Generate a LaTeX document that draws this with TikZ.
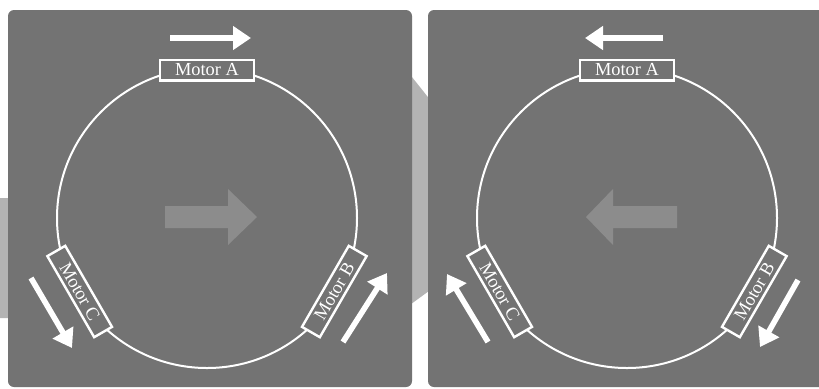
\documentclass[tikz,border=0pt]{standalone}
\usepackage{fontspec}
\setmainfont{Liberation Serif}
\usetikzlibrary{arrows.meta, positioning, calc}
\definecolor{panelgray}{RGB}{115,115,115}
\definecolor{shadegray}{RGB}{179,179,179}
\definecolor{driftgray}{RGB}{140,140,140}

\begin{document}
\begin{tikzpicture}[x=0.5pt, y=-0.5pt,
  panel/.style={fill=panelgray, rounded corners=3pt},
  motor/.style={rectangle, draw=white, line width=1.2pt, fill=panelgray, text=white, minimum width=46.8pt, minimum height=10.3pt, inner sep=0pt, font=\fontsize{9.2}{11}\selectfont},
  track/.style={draw=white, line width=1pt},
  spin/.style={white, line width=2.8pt, -{Triangle[length=9pt, width=11.5pt]}},
  drift/.style={fill=driftgray}]
\useasboundingbox (0,0) rectangle (819,388);
\clip (0,0) rectangle (819,388);
\fill[shadegray] (-10,198) -- (392,198) -- (392,52) -- (526,220) -- (392,318) -- (-10,318) -- cycle;
\fill[panel] (8,10) rectangle (412,387);
\fill[panel] (428,10) rectangle (832,387);

\fill[drift] (165,206) -- (228,206) -- (228,189) -- (257,217) -- (228,245) -- (228,228) -- (165,228) -- cycle;
\fill[drift] (677,206) -- (613,206) -- (613,189) -- (586,217) -- (613,245) -- (613,228) -- (677,228) -- cycle;

\coordinate (hubL) at (207,218);
\coordinate (hubR) at (627,218);
\draw[track] (hubL) circle[radius=75pt];
\draw[track] (hubR) circle[radius=75pt];

\node (motorAL) [motor] at ($(hubL)+(90:74pt)$) {Motor A};
\node (motorBL) [motor, rotate=60] at ($(hubL)+(-30:73.5pt)$) {Motor B};
\node (motorCL) [motor, rotate=-60] at ($(hubL)+(210:73.5pt)$) {Motor C};
\node (motorAR) [motor] at ($(hubR)+(90:74pt)$) {Motor A};
\node (motorBR) [motor, rotate=60] at ($(hubR)+(-30:73.5pt)$) {Motor B};
\node (motorCR) [motor, rotate=-60] at ($(hubR)+(210:73.5pt)$) {Motor C};

\coordinate (pushAL) at (170,38);
\coordinate (pushAL') at (251,38);
\coordinate (pushBL) at (343,342);
\coordinate (pushBL') at (387,273);
\coordinate (pushCL) at (31,278);
\coordinate (pushCL') at (72,348);
\coordinate (pushAR) at (663,38);
\coordinate (pushAR') at (585,38);
\coordinate (pushBR) at (798,280);
\coordinate (pushBR') at (760,347);
\coordinate (pushCR) at (488,342);
\coordinate (pushCR') at (447,274);

\draw[spin] (pushAL) -- (pushAL');
\draw[spin] (pushBL) -- (pushBL');
\draw[spin] (pushCL) -- (pushCL');
\draw[spin] (pushAR) -- (pushAR');
\draw[spin] (pushBR) -- (pushBR');
\draw[spin] (pushCR) -- (pushCR');
\end{tikzpicture}
\end{document}
